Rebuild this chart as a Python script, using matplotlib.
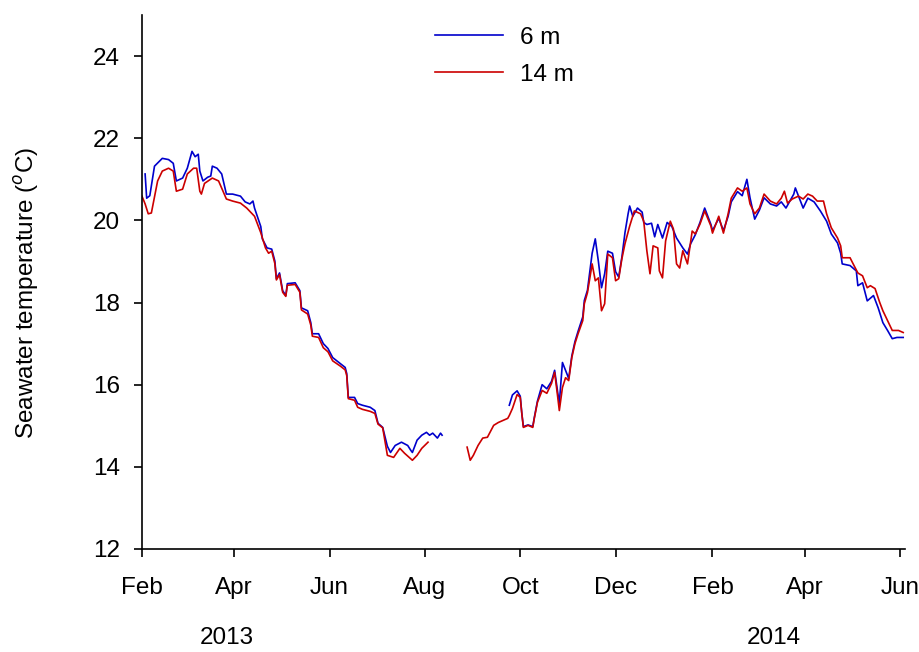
import numpy as np
import pandas as pd
import matplotlib
matplotlib.use("Agg")
import matplotlib.pyplot as plt
import matplotlib.dates as mdates
import matplotlib.transforms as mtransforms

plt.rcParams['font.family'] = ['Liberation Sans', 'DejaVu Sans']

START = pd.Timestamp('2013-02-01')

# 6 m logger, days since 1 Feb 2013 and temperature (degC)
days_6m_a = [2, 3, 5, 8, 13, 17, 20, 22, 26, 29, 32, 34, 36, 37, 39, 42, 44, 45, 48, 51,
             54, 58, 63, 66, 69, 71, 72, 76, 77, 80, 83, 85, 86, 88, 90, 92, 93, 98, 101, 102,
             106, 108, 109, 113, 116, 119, 122, 127, 130, 131, 132, 136, 138, 141, 146, 149,
             151, 154, 157, 159, 162, 166, 170, 172, 173, 176, 179, 182, 184, 186, 189, 191, 192]
temp_6m_a = [21.13, 20.54, 20.60, 21.32, 21.51, 21.48, 21.39, 20.96, 21.03, 21.27, 21.68, 21.55,
             21.61, 21.20, 20.96, 21.05, 21.08, 21.32, 21.27, 21.13, 20.64, 20.64, 20.59, 20.45,
             20.40, 20.47, 20.30, 19.85, 19.55, 19.33, 19.30, 19.01, 18.58, 18.72, 18.29, 18.17,
             18.46, 18.48, 18.29, 17.87, 17.80, 17.51, 17.24, 17.24, 17.00, 16.88, 16.66, 16.51,
             16.42, 16.27, 15.69, 15.69, 15.54, 15.50, 15.45, 15.37, 15.06, 14.96, 14.50, 14.35,
             14.52, 14.60, 14.52, 14.40, 14.35, 14.65, 14.77, 14.84, 14.77, 14.82, 14.70, 14.82, 14.77]

days_6m_b = [235, 237, 240, 242, 243, 244, 247, 250, 251, 253, 256, 259, 262, 264, 266, 267,
             269, 272, 273, 275, 277, 279, 282, 283, 285, 288, 290, 292, 294, 296, 298, 301,
             303, 305, 307, 309, 311, 312, 314, 317, 320, 321, 323, 326, 328, 330, 333, 336,
             339, 342, 346, 349, 351, 354, 357, 360, 364, 365, 369, 372, 375, 377, 381, 384,
             387, 389, 392, 395, 398, 402, 406, 409, 412, 417, 418, 423, 426, 430, 434, 438,
             441, 445, 447, 448, 453, 457, 458, 461, 464, 468, 471, 474, 477, 480, 483, 487]
temp_6m_b = [15.50, 15.75, 15.85, 15.72, 15.30, 14.98, 15.02, 14.98, 15.20, 15.60, 16.00, 15.90,
             16.08, 16.35, 15.80, 15.55, 16.54, 16.25, 16.15, 16.70, 17.05, 17.30, 17.65, 18.05,
             18.30, 19.20, 19.55, 19.00, 18.36, 18.70, 19.25, 19.20, 18.75, 18.62, 19.10, 19.70,
             20.16, 20.35, 20.10, 20.30, 20.20, 19.95, 19.90, 19.93, 19.60, 19.90, 19.57, 19.95,
             19.85, 19.57, 19.33, 19.18, 19.43, 19.65, 19.95, 20.30, 19.90, 19.75, 20.05, 19.75,
             20.10, 20.45, 20.70, 20.60, 21.00, 20.55, 20.03, 20.25, 20.55, 20.40, 20.35, 20.45,
             20.30, 20.64, 20.79, 20.30, 20.54, 20.45, 20.23, 19.98, 19.67, 19.45, 19.20, 18.94,
             18.90, 18.77, 18.41, 18.48, 18.04, 18.17, 17.87, 17.51, 17.32, 17.12, 17.15, 17.15]

# 14 m logger
days_14m_a = [0, 2, 4, 6, 10, 13, 17, 20, 22, 26, 29, 33, 35, 37, 38, 40, 45, 49, 54, 58,
              63, 67, 72, 76, 79, 81, 83, 85, 86, 88, 90, 92, 93, 98, 101, 102, 106, 108, 109,
              113, 116, 119, 122, 127, 130, 131, 132, 136, 138, 141, 146, 149, 151, 154, 157,
              161, 165, 168, 173, 176, 179, 183]
temp_14m_a = [20.59, 20.40, 20.16, 20.18, 20.96, 21.20, 21.27, 21.20, 20.71, 20.76, 21.13, 21.27,
              21.27, 20.71, 20.64, 20.90, 21.03, 20.96, 20.52, 20.47, 20.42, 20.30, 20.10, 19.70,
              19.33, 19.20, 19.25, 18.95, 18.55, 18.68, 18.25, 18.15, 18.42, 18.44, 18.25, 17.82,
              17.72, 17.45, 17.18, 17.15, 16.90, 16.80, 16.58, 16.45, 16.36, 16.22, 15.66, 15.62,
              15.45, 15.40, 15.35, 15.30, 15.04, 14.95, 14.28, 14.23, 14.45, 14.33, 14.16, 14.28,
              14.45, 14.60]

days_14m_b = [208, 210, 212, 215, 218, 221, 225, 228, 234, 235, 237, 240, 242, 243, 244, 247,
              250, 251, 253, 256, 259, 262, 264, 266, 267, 269, 271, 273, 275, 277, 279, 282,
              283, 285, 288, 290, 292, 294, 296, 298, 301, 303, 305, 307, 309, 312, 315, 319,
              321, 323, 325, 327, 330, 331, 333, 335, 338, 340, 342, 344, 346, 349, 352, 354,
              357, 360, 364, 365, 369, 372, 375, 377, 381, 384, 387, 389, 392, 395, 398, 402,
              406, 409, 411, 413, 416, 420, 423, 426, 429, 432, 436, 438, 441, 445, 447, 448,
              453, 455, 458, 461, 464, 466, 469, 472, 474, 477, 480, 484, 487]
temp_14m_b = [14.48, 14.16, 14.28, 14.52, 14.70, 14.72, 15.01, 15.08, 15.18, 15.25, 15.42, 15.76,
              15.69, 15.30, 14.96, 15.01, 14.96, 15.18, 15.57, 15.86, 15.79, 16.03, 16.30, 15.69,
              15.37, 15.93, 16.17, 16.10, 16.66, 17.00, 17.24, 17.56, 17.97, 18.24, 18.94, 18.53,
              18.60, 17.80, 17.97, 19.18, 19.09, 18.53, 18.58, 19.06, 19.43, 19.86, 20.23, 20.16,
              19.98, 19.26, 18.70, 19.38, 19.33, 18.77, 18.60, 19.50, 19.98, 19.79, 18.94, 18.84,
              19.26, 18.94, 19.74, 19.67, 19.91, 20.23, 19.86, 19.69, 20.10, 19.69, 20.16, 20.54,
              20.79, 20.71, 20.79, 20.40, 20.16, 20.30, 20.64, 20.47, 20.40, 20.54, 20.71, 20.42,
              20.52, 20.59, 20.52, 20.64, 20.59, 20.47, 20.47, 20.16, 19.82, 19.57, 19.38, 19.09,
              19.09, 18.94, 18.72, 18.65, 18.36, 18.41, 18.34, 18.00, 17.80, 17.56, 17.32, 17.32,
              17.27]


def to_dates(days):
    return START + pd.to_timedelta(days, unit='D')


fig = plt.figure(figsize=(9.19, 6.52), dpi=100)
ax = fig.add_axes([0.1545, 0.158, 0.830, 0.819])

ax.plot(to_dates(days_6m_a), temp_6m_a, color='#0000cc', lw=1.2, label='6 m')
ax.plot(to_dates(days_6m_b), temp_6m_b, color='#0000cc', lw=1.2)
ax.plot(to_dates(days_14m_a), temp_14m_a, color='#cc0000', lw=1.2, label='14 m')
ax.plot(to_dates(days_14m_b), temp_14m_b, color='#cc0000', lw=1.2)

ax.set_ylim(12, 25)
ax.set_yticks([12, 14, 16, 18, 20, 22, 24])
ax.set_xlim(START, pd.Timestamp('2014-06-04'))
ax.xaxis.set_major_locator(mdates.MonthLocator(bymonth=[2, 4, 6, 8, 10, 12]))
ax.xaxis.set_major_formatter(mdates.DateFormatter('%b'))

ax.spines['top'].set_visible(False)
ax.spines['right'].set_visible(False)
for s in ('left', 'bottom'):
    ax.spines[s].set_linewidth(1.2)
ax.tick_params(axis='both', direction='out', length=6, width=1.2, labelsize=17.5)
ax.tick_params(axis='x', pad=14)
ax.tick_params(axis='y', pad=10)

ax.set_ylabel('Seawater temperature ($^{o}$C)', fontsize=17.5)
ax.yaxis.set_label_coords(-0.132, 0.479)

trans = mtransforms.blended_transform_factory(ax.transData, ax.transAxes)
ax.text(pd.Timestamp('2013-03-27'), -0.167, '2013', transform=trans,
        ha='center', va='center', fontsize=17.5)
ax.text(pd.Timestamp('2014-03-12'), -0.167, '2014', transform=trans,
        ha='center', va='center', fontsize=17.5)

ax.legend(loc='upper left', bbox_to_anchor=(0.4733, 0.9586), bbox_transform=fig.transFigure,
          frameon=False, fontsize=17.5, borderpad=0, borderaxespad=0,
          handlelength=2.8, handletextpad=0.7, labelspacing=0.6)

fig.savefig('out.png', dpi=100)
